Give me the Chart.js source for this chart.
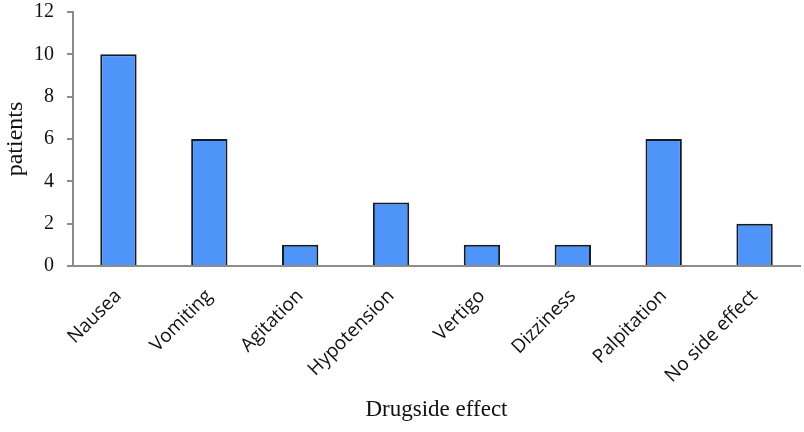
<!DOCTYPE html>
<html>
<head>
<meta charset="utf-8">
<script src="https://cdn.jsdelivr.net/npm/chart.js@4/dist/chart.umd.min.js"></script>
<style>
  html, body { margin: 0; padding: 0; background: #fff; }
  #wrap { width: 804px; height: 432px; }
</style>
</head>
<body>
<div id="wrap"><canvas id="sideEffectChart"></canvas></div>
<script>
const categories = ['Nausea', 'Vomiting', 'Agitation', 'Hypotension', 'Vertigo', 'Dizziness', 'Palpitation', 'No side effect'];
const patients = [10, 6, 1, 3, 1, 1, 6, 2];
const yTicks = [0, 2, 4, 6, 8, 10, 12];

const serif = '"Liberation Serif", "DejaVu Serif", serif';
const sans = '"Open Sans", "Noto Sans", sans-serif';

const ctx = document.getElementById('sideEffectChart').getContext('2d');

new Chart(ctx, {
    type: 'bar',
    data: {
        labels: categories,
        datasets: [{
            label: 'patients',
            data: patients,
            backgroundColor: '#4f94f8',
            borderColor: '#131d28',
            borderWidth: 2,
            barPercentage: 0.40,
            categoryPercentage: 1.0
        }]
    },
    options: {
        responsive: true,
        maintainAspectRatio: false,
        animation: false,
        layout: { padding: { top: 0, right: 4, left: 0, bottom: 0 } },
        plugins: {
            legend: { display: false },
            tooltip: { enabled: false }
        },
        scales: {
            x: {
                // fixed band under the plot so the plot ends at y=266 like the original
                afterFit: scale => {
                    scale.height = 166;
                    scale.paddingLeft = 0;
                    scale.paddingRight = 0;
                },
                grid: { display: false, drawTicks: false },
                border: { display: true, color: '#8c8c8c', width: 2 },
                ticks: {
                    color: '#111',
                    font: { family: sans, size: 19 },
                    minRotation: 45,
                    maxRotation: 45,
                    padding: 19
                },
                title: {
                    display: true,
                    text: 'Drugside effect',
                    color: '#111',
                    font: { family: serif, size: 23 },
                    padding: { top: 0, bottom: 8 }
                }
            },
            y: {
                min: 0,
                max: 12,
                afterBuildTicks: axis => { axis.ticks = yTicks.map(v => ({ value: v })); },
                afterFit: scale => {
                    scale.width = 73;
                    scale.paddingTop = 12;
                },
                grid: { drawOnChartArea: false, drawTicks: true, tickLength: 6, color: '#8c8c8c', lineWidth: 2 },
                border: { display: true, color: '#8c8c8c', width: 2 },
                ticks: {
                    color: '#111',
                    font: { family: serif, size: 20 },
                    padding: 13
                },
                title: {
                    display: true,
                    text: 'patients',
                    color: '#111',
                    font: { family: serif, size: 24 },
                    padding: { top: 1, bottom: 0 }
                }
            }
        }
    }
});
</script>
</body>
</html>
